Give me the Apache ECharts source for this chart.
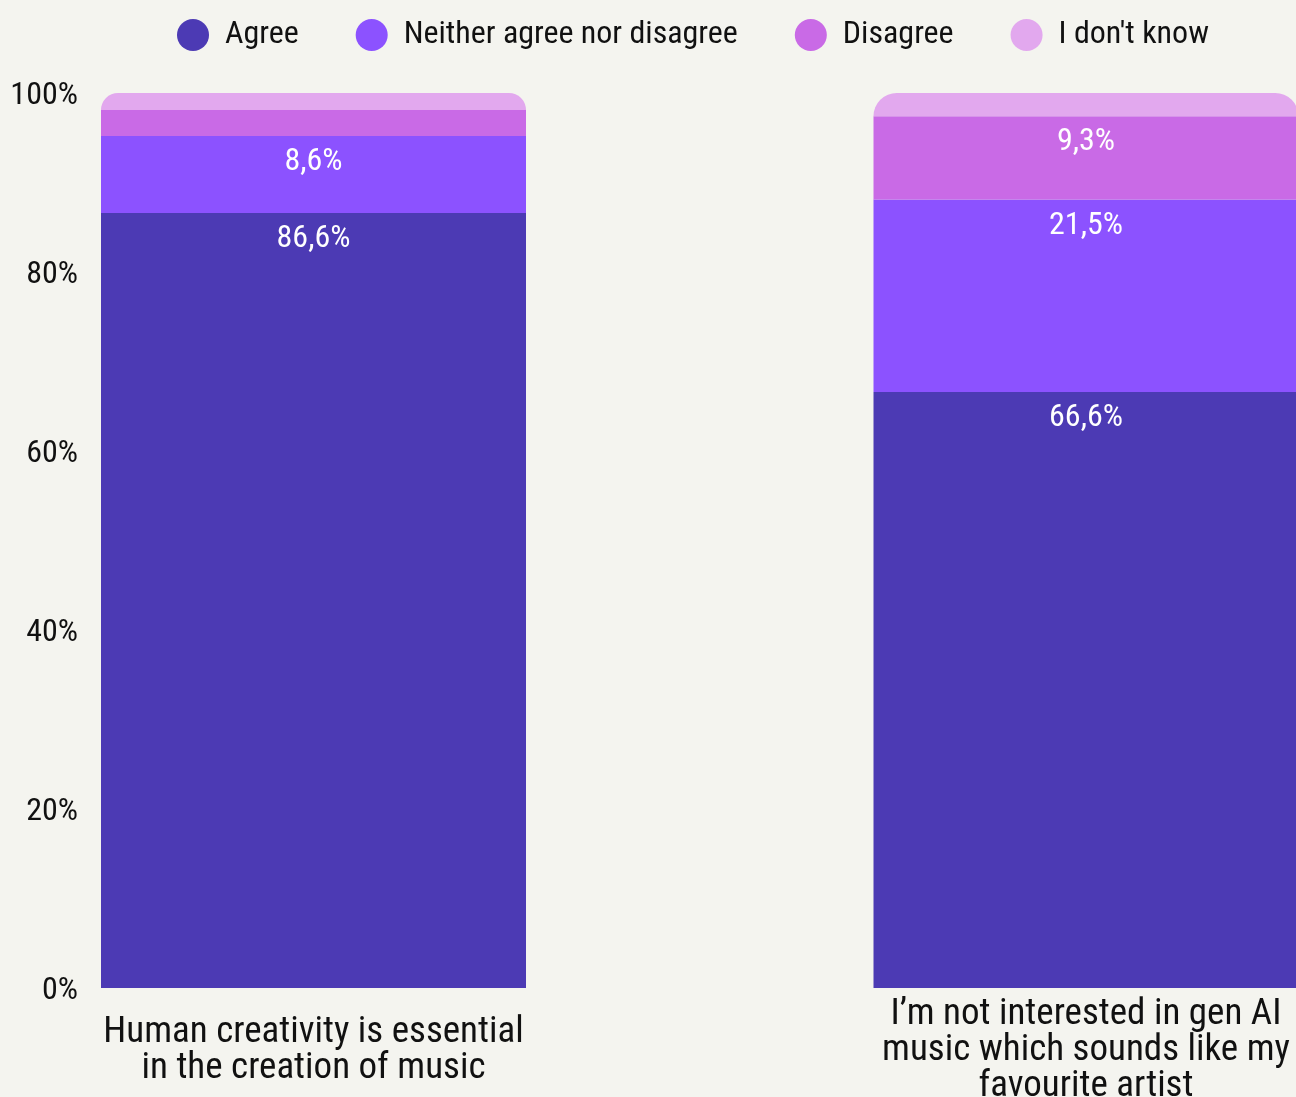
<!DOCTYPE html>
<html>
<head>
<meta charset="utf-8">
<script src="https://cdn.jsdelivr.net/npm/echarts@6/dist/echarts.min.js"></script>
<style>
  html, body { margin: 0; padding: 0; background: #f4f4ef; }
  #chart { width: 1296px; height: 1097px; }
</style>
</head>
<body>
<div id="chart"></div>
<script>
// Survey statements (x axis)
const categories = [
  'Human creativity is essential\nin the creation of music',
  'I\u2019m not interested in gen AI\nmusic which sounds like my\nfavourite artist'
];

// Share of answers per statement, in percent
const agree    = [86.6, 66.6];
const neither  = [8.6, 21.5];
const disagree = [2.9, 9.3];
const dontKnow = [1.9, 2.6];

const seriesNames = ['Agree', 'Neither agree nor disagree', 'Disagree', "I don't know"];
const yTicks = [0, 20, 40, 60, 80, 100];

const FONT = '"Roboto Condensed", "Liberation Sans Narrow", "DejaVu Sans Condensed", Roboto, sans-serif';
const colors = ['#4c3ab4', '#8c52ff', '#c96ae6', '#e2a8ee'];

const chart = echarts.init(document.getElementById('chart'), null, { renderer: 'canvas' });

function valueLabel() {
  return {
    show: true,
    position: 'insideTop',
    distance: 10,
    color: '#ffffff',
    fontFamily: FONT,
    fontSize: 32,
    formatter: p => (p.value >= 5 ? p.value.toFixed(1).replace('.', ',') + '%' : '')
  };
}

const values = [agree, neither, disagree, dontKnow];

const series = values.map((data, i) => ({
  name: seriesNames[i],
  type: 'bar',
  stack: 'total',
  barWidth: 425,
  data: data,
  itemStyle: {
    color: colors[i],
    borderRadius: i === values.length - 1 ? [28, 28, 0, 0] : 0
  },
  label: valueLabel(),
  emphasis: { disabled: true }
}));

chart.setOption({
  backgroundColor: '#f4f4ef',
  animation: false,
  legend: {
    left: 172,
    top: 14,
    itemWidth: 54,
    itemHeight: 32,
    itemGap: 57,
    icon: 'circle',
    textStyle: { fontFamily: FONT, fontSize: 32, color: '#111111' },
    data: seriesNames
  },
  grid: {
    left: 313.5,
    right: 210,
    top: 93,
    bottom: 109,
    outerBoundsMode: 'none',
    containLabel: false
  },
  xAxis: {
    type: 'category',
    data: categories,
    boundaryGap: false,
    axisLine: { show: false },
    axisTick: { show: false },
    splitLine: { show: false },
    axisLabel: {
      interval: 0,
      margin: 63,
      verticalAlign: 'middle',
      lineHeight: 36,
      fontFamily: FONT,
      fontSize: 37,
      color: '#111111'
    }
  },
  yAxis: {
    type: 'value',
    min: yTicks[0],
    max: yTicks[yTicks.length - 1],
    interval: yTicks[1] - yTicks[0],
    splitLine: { show: false },
    axisLine: { show: false },
    axisTick: { show: false },
    axisLabel: {
      margin: 235.5,
      verticalAlign: 'top',
      lineHeight: 6,
      fontFamily: FONT,
      fontSize: 32,
      color: '#111111',
      formatter: '{value}%'
    }
  },
  series: series
});
</script>
</body>
</html>
